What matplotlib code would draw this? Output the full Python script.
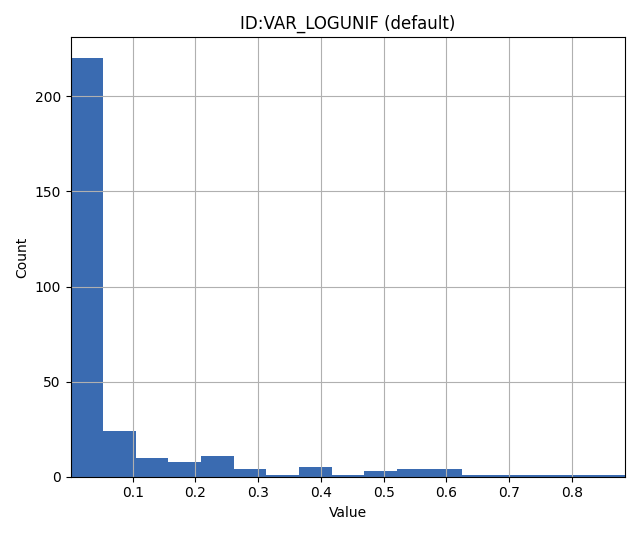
import numpy as np
import matplotlib
matplotlib.use("Agg")
import matplotlib.pyplot as plt

# Histogram data
bin_min = 0.0011
bin_max = 0.8845
counts = [220, 24, 10, 8, 11, 4, 1, 5, 1, 3, 4, 4, 1, 1, 1, 1, 1]
title = "ID:VAR_LOGUNIF (default)"
xlabel = "Value"
ylabel = "Count"

edges = np.linspace(bin_min, bin_max, len(counts) + 1)

fig, ax = plt.subplots(figsize=(6.4, 5.35), dpi=100)
ax.bar(edges[:-1], counts, width=np.diff(edges), align="edge",
       color="#3a6bb1", linewidth=0)
ax.set_xlim(edges[0], edges[-1])
ax.grid(True, color="#b0b0b0")
ax.set_title(title)
ax.set_xlabel(xlabel)
ax.set_ylabel(ylabel)
fig.tight_layout()
fig.savefig("out.png", dpi=100)
